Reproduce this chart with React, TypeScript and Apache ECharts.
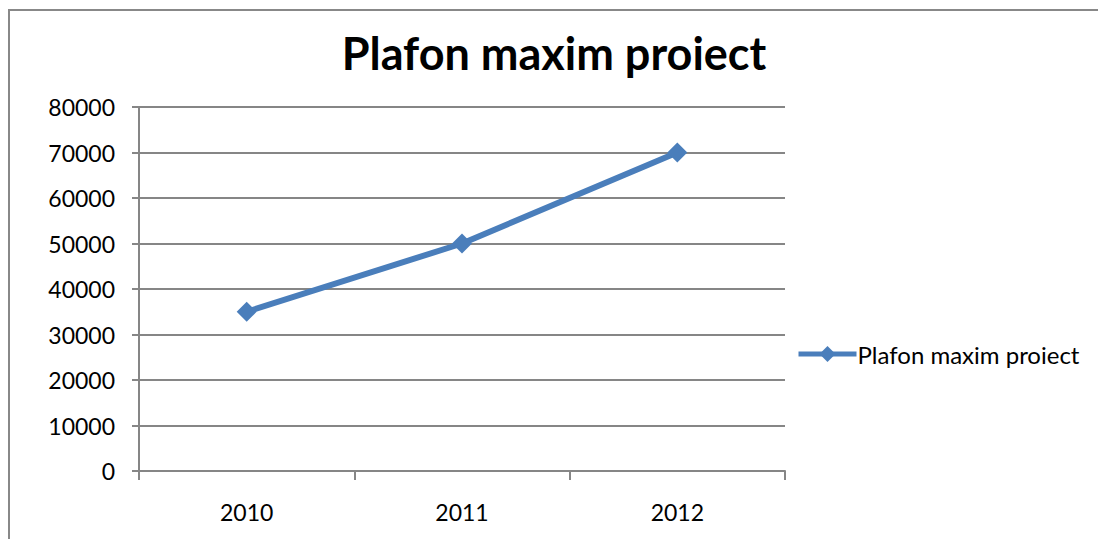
import React, { useEffect, useRef } from "react";
import * as echarts from "echarts";

const categories = ["2010", "2011", "2012"];
const values = [35000, 50000, 70000];
const seriesName = "Plafon maxim proiect";
const titleText = "Plafon maxim proiect";

export default function App() {
  const ref = useRef<HTMLDivElement>(null);
  useEffect(() => {
    document.body.style.margin = "0";
    const chart = echarts.init(ref.current!, null, { renderer: "svg" });
    const font = "Lato, 'Open Sans', sans-serif";
    chart.setOption({
      animation: false,
      backgroundColor: "#ffffff",
      title: {
        text: titleText,
        left: 549,
        top: 25,
        textAlign: "center",
        textStyle: { fontFamily: font, fontWeight: "bold", fontSize: 45, color: "#000" },
      },
      graphic: [
        {
          type: "rect",
          shape: { x: 9, y: 10, width: 2000, height: 1000 },
          style: { fill: "none", stroke: "#888", lineWidth: 2 },
        },
      ],
      legend: {
        left: 791,
        top: 337,
        itemWidth: 58,
        itemHeight: 20,
        itemGap: 0,
        lineStyle: { width: 5 },
        textStyle: { fontFamily: font, fontSize: 24, color: "#000", padding: [0, 0, 0, -4] },
        data: [seriesName],
      },
      grid: { left: 139, right: 313, top: 107, bottom: 68 },
      xAxis: {
        type: "category",
        data: categories,
        boundaryGap: true,
        axisLine: { show: true, lineStyle: { color: "#868686", width: 2 } },
        axisTick: { show: true, length: 9, alignWithLabel: false, lineStyle: { color: "#868686", width: 2 } },
        axisLabel: { margin: 29, fontFamily: font, fontSize: 23, color: "#000" },
        splitLine: { show: false },
      },
      yAxis: {
        type: "value",
        min: 0,
        max: 80000,
        interval: 10000,
        axisLine: { show: true, lineStyle: { color: "#868686", width: 2 } },
        axisTick: { show: true, length: 7, lineStyle: { color: "#868686", width: 2 } },
        axisLabel: { margin: 24, fontFamily: font, fontSize: 23, color: "#000", formatter: (v: number) => String(v) },
        splitLine: { show: true, lineStyle: { color: "#868686", width: 2 } },
      },
      series: [
        {
          name: seriesName,
          type: "line",
          data: values,
          symbol: "diamond",
          symbolSize: 20,
          lineStyle: { color: "#4a7ebb", width: 6 },
          itemStyle: { color: "#4a7ebb" },
        },
      ],
    });
    return () => chart.dispose();
  }, []);
  return <div ref={ref} style={{ width: 1098, height: 539 }} />;
}
